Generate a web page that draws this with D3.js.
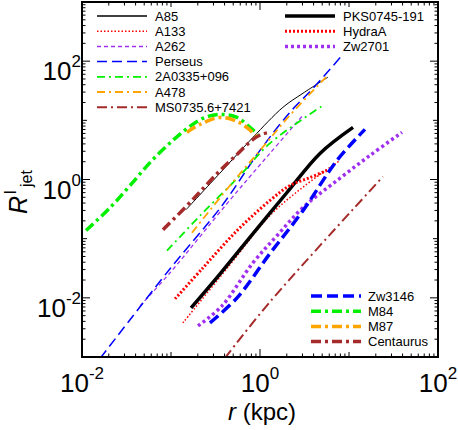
<!DOCTYPE html>
<html lang="en">
<head>
<meta charset="UTF-8">
<title>R_jet vs r</title>
<script src="https://d3js.org/d3.v7.min.js"></script>
<style>
  body { margin: 0; background: #fff; }
  svg text { font-family: Arial, "Liberation Sans", sans-serif; fill: #000; }
</style>
</head>
<body>
<svg width="458" height="430"></svg>
<script>
// each series: [r (kpc), R_jet]
const A85 = [[0.148, 0.31], [0.356, 1.29], [0.834, 5.15], [1.81, 16.6], [3.04, 28.7], [5.81, 53.6]];
const A133 = [[0.136, 0.00377], [0.46, 0.0362], [1.29, 0.245], [3.21, 0.791], [7.92, 2.10]];
const A262 = [[0.0449, 0.00731], [0.0975, 0.0265], [0.426, 0.392], [1.29, 2.76], [3.04, 12.2]];
const Perseus = [[0.016, 0.00095], [0.0975, 0.031], [0.374, 0.362], [1.0, 3.1], [2.17, 13.7], [3.95, 34.8], [8.57, 131]];
const A2A0335 = [[0.0902, 0.0627], [0.212, 0.245], [0.596, 1.17], [1.29, 4.07], [5.11, 17.9]];
const A478 = [[0.172, 0.126], [0.46, 0.791], [1.0, 3.1], [2.17, 12.2], [5.52, 53.6]];
const MS0735 = [[0.404, 0.00096], [1.29, 0.0085], [24.1, 1.12]];
const PKS0745 = [[0.168, 0.00678], [0.356, 0.0255], [0.834, 0.122], [2.01, 0.603], [4.72, 2.76], [11.1, 7.60]];
const HydraA = [[0.111, 0.00962], [0.229, 0.0322], [0.552, 0.137], [1.29, 0.441], [2.17, 0.791], [3.65, 1.08], [5.66, 1.42]];
const Zw2701 = [[0.201, 0.00335], [0.374, 0.00731], [0.834, 0.0392], [1.55, 0.112], [3.04, 0.335], [7.33, 0.962], [17.2, 2.55], [39.4, 6.27]];
const Zw3146 = [[0.274, 0.00377], [0.552, 0.01], [1.29, 0.0557], [3.04, 0.298], [7.33, 2.10], [15.1, 7.03]];
const M84 = [[0.0111, 0.137], [0.0207, 0.335], [0.0346, 0.791], [0.0612, 2.10], [0.105, 4.58], [0.163, 7.91], [0.241, 11.2], [0.356, 12.6], [0.552, 11.2], [0.773, 7.6], [0.951, 5.8]];
const M87 = [[0.151, 6.27], [0.212, 8.55], [0.356, 11.2], [0.552, 9.62], [0.733, 7.31], [0.951, 4.95]];
const Centaurus = [[0.0813, 0.142], [0.144, 0.335], [0.229, 0.703], [0.356, 1.42], [0.552, 2.65], [0.834, 4.76], [1.05, 5.8], [1.29, 6.27]];

const xTickExps = [-2, 0, 2];
const yTickExps = [-2, 0, 2];

// name, data, colour, width, dash, legend group
const series = [
  ["A85", A85, "#000000", 1, null, 0],
  ["A133", A133, "#ff0000", 1.5, "1.5,2", 0],
  ["A262", A262, "#a030f0", 1.3, "4,3", 0],
  ["Perseus", Perseus, "#0000ff", 1.5, "10,5", 0],
  ["2A0335+096", A2A0335, "#00f000", 1.8, "8,4,2,4", 0],
  ["A478", A478, "#ffa500", 1.8, "8,4,2,4", 0],
  ["MS0735.6+7421", MS0735, "#a52a2a", 2, "10,4,2,4", 0],
  ["PKS0745-191", PKS0745, "#000000", 3.5, null, 1],
  ["HydraA", HydraA, "#ff0000", 3, "2,2", 1],
  ["Zw2701", Zw2701, "#a030f0", 3.5, "3,3", 1],
  ["Zw3146", Zw3146, "#0000ff", 3.5, "11,5", 2],
  ["M84", M84, "#00f000", 3.5, "10,4,3,4", 2],
  ["M87", M87, "#ffa500", 3.5, "10,4,3,4", 2],
  ["Centaurus", Centaurus, "#a52a2a", 3.5, "10,4,3,4", 2]
];

const svg = d3.select("svg");
const L = 82, R = 438, T = 2, B = 357;

const x = d3.scaleLog().domain([1e-2, 1e2]).range([L, R]);
const y = d3.scaleLog().domain([1e-3, 1e3]).range([B, T]);

svg.append("defs").append("clipPath").attr("id", "plot")
  .append("rect").attr("x", L).attr("y", T).attr("width", R - L).attr("height", B - T);

const line = d3.line()
  .x(d => x(d[0]))
  .y(d => y(d[1]))
  .curve(d3.curveCatmullRom.alpha(0.5));

const curves = svg.append("g").attr("clip-path", "url(#plot)");
series.forEach(s => {
  curves.append("path")
    .attr("d", line(s[1]))
    .attr("fill", "none")
    .attr("stroke", s[2])
    .attr("stroke-width", s[3])
    .attr("stroke-dasharray", s[4]);
});

// ticks on all four sides, pointing inward
function logTicks(lo, hi) {
  const out = [];
  for (let e = lo; e < hi; e++) {
    for (let k = 1; k < 10; k++) out.push({ v: k * Math.pow(10, e), k: k, e: e });
  }
  out.push({ v: Math.pow(10, hi), k: 1, e: hi });
  return out;
}
const ticks = svg.append("g").attr("stroke", "#000").attr("stroke-width", 1);
function tickLen(t, labelled) {
  if (t.k !== 1) return 3.5;
  return labelled.includes(t.e) ? 8 : 5;
}
logTicks(-2, 2).forEach(t => {
  const px = x(t.v), len = tickLen(t, xTickExps);
  ticks.append("line").attr("x1", px).attr("x2", px).attr("y1", B).attr("y2", B - len);
  ticks.append("line").attr("x1", px).attr("x2", px).attr("y1", T).attr("y2", T + len);
});
logTicks(-3, 3).forEach(t => {
  const py = y(t.v), len = tickLen(t, yTickExps);
  ticks.append("line").attr("y1", py).attr("y2", py).attr("x1", L).attr("x2", L + len);
  ticks.append("line").attr("y1", py).attr("y2", py).attr("x1", R).attr("x2", R - len);
});

svg.append("rect")
  .attr("x", L).attr("y", T).attr("width", R - L).attr("height", B - T)
  .attr("fill", "none").attr("stroke", "#000").attr("stroke-width", 2);

// tick labels 10^n
function powLabel(g, e) {
  g.append("tspan").text("10");
  g.append("tspan").attr("font-size", 17).attr("dy", -13).text(e);
}
xTickExps.forEach(e => {
  const t = svg.append("text")
    .attr("x", x(Math.pow(10, e)))
    .attr("y", 392)
    .attr("font-size", 26)
    .attr("text-anchor", "middle");
  powLabel(t, e);
});
yTickExps.forEach(e => {
  const t = svg.append("text")
    .attr("x", 81)
    .attr("y", y(Math.pow(10, e)) + 19)
    .attr("font-size", 26)
    .attr("text-anchor", "end");
  powLabel(t, e);
});

// axis titles
const xt = svg.append("text")
  .attr("x", 262).attr("y", 420)
  .attr("font-size", 24)
  .attr("text-anchor", "middle");
xt.append("tspan").attr("font-style", "italic").text("r");
xt.append("tspan").text(" (kpc)");

const yt = svg.append("g").attr("transform", "translate(27,214) rotate(-90)");
yt.append("text").attr("x", 0).attr("y", 0).attr("font-size", 25)
  .attr("font-style", "italic").text("R");
yt.append("text").attr("x", 20).attr("y", -11).attr("font-size", 16).text("l");
yt.append("text").attr("x", 27).attr("y", 5).attr("font-size", 16).text("jet");

// legends
const legendPos = [
  { x0: 97, x1: 147, tx: 155, y0: 16, dy: 15.2 },
  { x0: 285, x1: 335, tx: 343, y0: 16, dy: 15.2 },
  { x0: 311, x1: 361, tx: 368, y0: 296, dy: 15.2 }
];
const counts = [0, 0, 0];
series.forEach(s => {
  const p = legendPos[s[5]];
  const yy = p.y0 + p.dy * counts[s[5]]++;
  svg.append("line")
    .attr("x1", p.x0).attr("x2", p.x1).attr("y1", yy).attr("y2", yy)
    .attr("stroke", s[2])
    .attr("stroke-width", s[5] === 0 ? Math.max(s[3], 1.5) : s[3])
    .attr("stroke-dasharray", s[4]);
  svg.append("text")
    .attr("x", p.tx).attr("y", yy + 4.5)
    .attr("font-size", 13)
    .text(s[0]);
});
</script>
</body>
</html>
